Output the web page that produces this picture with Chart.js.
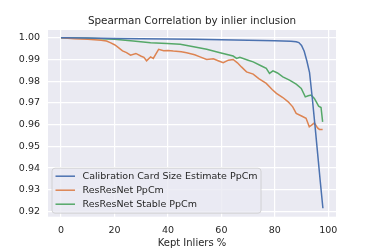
<!DOCTYPE html>
<html>
<head>
<meta charset="utf-8">
<script src="https://cdn.jsdelivr.net/npm/chart.js@4/dist/chart.umd.min.js"></script>
<style>
  body { margin: 0; background: #fff; }
</style>
</head>
<body>
<canvas id="myChart" width="374" height="249"></canvas>
<script>
// series (x = kept inliers %, y = spearman correlation)
const cardX = [0, 10, 20, 30, 40, 50, 60, 70, 80, 86, 88, 89, 90, 91, 92, 93, 94, 95, 96, 97, 98];
const cardY = [1.0, 0.9999, 0.9997, 0.9996, 0.9994, 0.9993, 0.9991, 0.9989, 0.9987, 0.9984, 0.9982,
  0.9978, 0.9965, 0.9938, 0.9893, 0.984, 0.9725, 0.960, 0.947, 0.934, 0.9215];

const resX = [0, 5, 10, 15, 17, 18.6, 20, 21, 23, 24.5, 26, 28, 30, 31, 32, 33.5, 34.5, 36.5, 38.4, 40,
  42, 45, 47, 50, 52, 54.5, 57, 59, 60.7, 62.6, 64.4, 66, 67.5, 69.4, 71.9, 74, 76.8, 79, 80.6, 83,
  85, 86.7, 88, 90, 91.7, 92.9, 94, 94.8, 96, 96.7, 97.9];
const resY = [1.0, 0.9996, 0.9993, 0.9989, 0.9985, 0.9977, 0.9968, 0.9959, 0.994, 0.9932, 0.992, 0.9928,
  0.9915, 0.991, 0.9894, 0.9912, 0.9905, 0.9947, 0.994, 0.9942, 0.9939, 0.9936, 0.9931, 0.9922, 0.9912,
  0.99, 0.9903, 0.9893, 0.9885, 0.9897, 0.99, 0.9885, 0.9866, 0.9843, 0.9833, 0.9812, 0.979, 0.9762,
  0.9744, 0.9725, 0.9705, 0.9682, 0.9652, 0.964, 0.9629, 0.959, 0.96, 0.9608, 0.9585, 0.9578, 0.9578];

const stableX = [0, 10, 20, 27, 33.5, 39.7, 44.6, 49.6, 54.5, 59.5, 64.4, 65.7, 66.9, 70, 71.9, 75, 76.8,
  78, 79.3, 81, 83, 85.5, 88, 89.9, 91.4, 92.5, 93.6, 94.8, 96.4, 97.3, 97.9];
const stableY = [1.0, 0.9998, 0.9993, 0.9985, 0.9977, 0.9974, 0.997, 0.9959, 0.9947, 0.9931, 0.9916,
  0.9905, 0.991, 0.9897, 0.9889, 0.987, 0.9859, 0.9836, 0.9848, 0.9838, 0.982, 0.9805, 0.9787, 0.9767,
  0.9728, 0.9733, 0.9736, 0.9721, 0.9685, 0.9679, 0.9613];

const seriesNames = ['Calibration Card Size Estimate PpCm', 'ResResNet PpCm', 'ResResNet Stable PpCm'];
const xTicks = [0, 20, 40, 60, 80, 100];
const yTicks = [0.92, 0.93, 0.94, 0.95, 0.96, 0.97, 0.98, 0.99, 1.00];
const titleText = 'Spearman Correlation by inlier inclusion';

const colors = ['#4C72B0', '#DD8452', '#55A868'];
const textColor = '#262626';
const tickFont = { family: 'DejaVu Sans', size: 9.5 };

const toPoints = (xs, ys) => xs.map((x, i) => ({ x: x, y: ys[i] }));

// grey plot background + title centred over the plot
const bgPlugin = {
  id: 'bg',
  beforeDraw(chart) {
    const { ctx, chartArea: a } = chart;
    ctx.save();
    ctx.fillStyle = '#EAEAF2';
    ctx.fillRect(a.left, a.top, a.right - a.left, a.bottom - a.top);
    ctx.fillStyle = textColor;
    ctx.font = '10.4px "DejaVu Sans"';
    ctx.textAlign = 'center';
    ctx.textBaseline = 'middle';
    ctx.fillText(titleText, (a.left + a.right) / 2, 21);
    ctx.restore();
  }
};

// legend sitting inside the plot, lower left
const legendPlugin = {
  id: 'innerLegend',
  afterDraw(chart) {
    const { ctx, chartArea: a } = chart;
    const x0 = a.left + 4, y0 = a.bottom - 48.5, w = 209, h = 45;
    ctx.save();
    ctx.fillStyle = 'rgba(234,234,242,0.8)';
    ctx.strokeStyle = '#CCCCCC';
    ctx.lineWidth = 0.8;
    ctx.beginPath();
    ctx.roundRect(x0, y0, w, h, 3);
    ctx.fill();
    ctx.stroke();
    ctx.font = '9.5px "DejaVu Sans"';
    ctx.textBaseline = 'middle';
    seriesNames.forEach((name, i) => {
      const y = y0 + 8 + i * 14;
      ctx.strokeStyle = colors[i];
      ctx.lineWidth = 1.5;
      ctx.beginPath();
      ctx.moveTo(x0 + 3.5, y);
      ctx.lineTo(x0 + 23, y);
      ctx.stroke();
      ctx.fillStyle = textColor;
      ctx.fillText(name, x0 + 30.5, y);
    });
    ctx.restore();
  }
};

const ctx = document.getElementById('myChart').getContext('2d');

const myChart = new Chart(ctx, {
  type: 'line',
  data: {
    datasets: [
      { label: seriesNames[0], data: toPoints(cardX, cardY), borderColor: colors[0] },
      { label: seriesNames[1], data: toPoints(resX, resY), borderColor: colors[1] },
      { label: seriesNames[2], data: toPoints(stableX, stableY), borderColor: colors[2] },
    ],
  },
  options: {
    responsive: false,
    animation: false,
    devicePixelRatio: 1,
    elements: {
      point: { radius: 0 },
      line: { borderWidth: 1.5, tension: 0 },
    },
    layout: { padding: { left: 0, right: 38, top: 30, bottom: 0 } },
    plugins: {
      legend: { display: false },
      tooltip: { enabled: false },
      title: { display: false },
    },
    scales: {
      x: {
        type: 'linear',
        min: -4.9,
        max: 102.9,
        afterBuildTicks: s => { s.ticks = xTicks.map(v => ({ value: v })); },
        afterFit: s => { s.height = 32.3; },
        ticks: { color: textColor, font: tickFont, padding: 8, maxRotation: 0, callback: v => String(v) },
        grid: { color: '#FFFFFF', lineWidth: 1.2, drawTicks: false },
        border: { display: false },
        title: { display: true, text: 'Kept Inliers %', color: textColor,
          font: { family: 'DejaVu Sans', size: 10 }, padding: { top: 1, bottom: 0 } },
      },
      y: {
        type: 'linear',
        min: 0.9176,
        max: 1.0036,
        afterBuildTicks: s => { s.ticks = yTicks.map(v => ({ value: v })); },
        afterFit: s => { s.width = 48; },
        ticks: { color: textColor, font: tickFont, padding: 8, callback: v => v.toFixed(2) },
        grid: { color: '#FFFFFF', lineWidth: 1.2, drawTicks: false },
        border: { display: false },
      },
    },
  },
  plugins: [bgPlugin, legendPlugin],
});
</script>
</body>
</html>
